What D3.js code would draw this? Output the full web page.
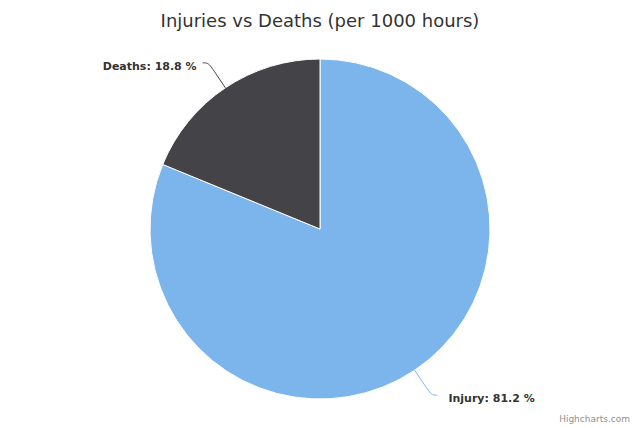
<!DOCTYPE html>
<html>
<head>
<meta charset="utf-8">
<script src="https://cdn.jsdelivr.net/npm/d3@7"></script>
<style>
  html, body { margin: 0; padding: 0; background: #fff; }
  svg { display: block; font-family: "Lucida Grande", "DejaVu Sans", Arial, sans-serif; }
</style>
</head>
<body>
<div id="chart"></div>
<script>
"use strict";

var categories = ["Injury", "Deaths"];
var values = [81.2, 18.8];
var colors = ["#7cb5ec", "#434348"];
var titleText = "Injuries vs Deaths (per 1000 hours)";
var creditText = "Highcharts.com";

var width = 640;
var height = 427;
var center = { x: 320, y: 229 };
var radius = 170;
var labelDistance = 30;
var connectorOffset = 15;

var svg = d3.select("#chart").append("svg")
  .attr("width", width)
  .attr("height", height);

svg.append("text")
  .attr("x", width / 2)
  .attr("y", 27)
  .attr("text-anchor", "middle")
  .attr("fill", "#333333")
  .style("font-size", "18px")
  .text(titleText);

var data = categories.map(function(c, i) {
  return { name: c, value: values[i], color: colors[i] };
});

var pie = d3.pie()
  .sort(null)
  .value(function(d) { return d.value; });

var arc = d3.arc()
  .innerRadius(0)
  .outerRadius(radius);

var total = d3.sum(values);
var arcs = pie(data);

var g = svg.append("g")
  .attr("transform", "translate(" + center.x + "," + center.y + ")");

g.selectAll("path.slice")
  .data(arcs)
  .enter().append("path")
  .attr("class", "slice")
  .attr("d", arc)
  .attr("fill", function(d) { return d.data.color; })
  .attr("stroke", "#ffffff")
  .attr("stroke-width", 1)
  .attr("stroke-linejoin", "round");

// point on a circle of radius r at the slice's middle angle
var polar = function(a, r) {
  return [Math.sin(a) * r, -Math.cos(a) * r];
};

arcs.forEach(function(d) {
  var mid = (d.startAngle + d.endAngle) / 2;
  var left = Math.sin(mid) < 0;
  var edge = polar(mid, radius);
  var bend = polar(mid, radius + connectorOffset);
  var lab = polar(mid, radius + labelDistance);
  var sx = lab[0] + (left ? -6 : 6);
  var y = lab[1];

  var path = "M" + sx + "," + y +
    "C" + lab[0] + "," + y + "," +
    (2 * bend[0] - edge[0]) + "," + (2 * bend[1] - edge[1]) + "," +
    bend[0] + "," + bend[1] +
    "L" + edge[0] + "," + edge[1];

  g.append("path")
    .attr("d", path)
    .attr("fill", "none")
    .attr("stroke", d.data.color)
    .attr("stroke-width", 1);

  g.append("text")
    .attr("x", left ? sx - 6 : sx + 11)
    .attr("y", y + 7)
    .attr("text-anchor", left ? "end" : "start")
    .attr("fill", "#333333")
    .style("font-size", "11px")
    .style("font-weight", "bold")
    .text(d.data.name + ": " + (d.data.value / total * 100).toFixed(1) + " %");
});

svg.append("text")
  .attr("x", width - 10)
  .attr("y", height - 5)
  .attr("text-anchor", "end")
  .attr("fill", "#909090")
  .style("font-size", "9px")
  .text(creditText);
</script>
</body>
</html>
